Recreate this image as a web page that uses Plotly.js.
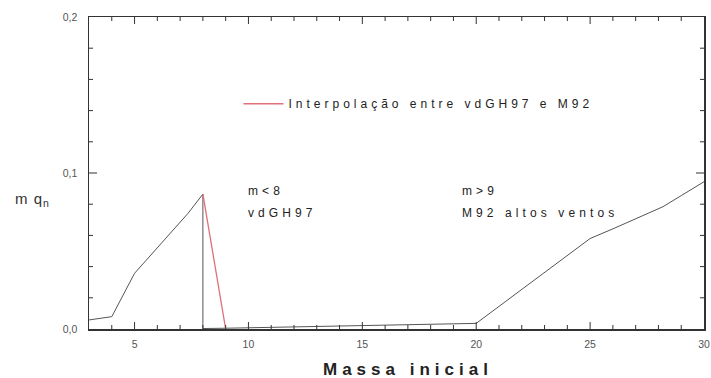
<!DOCTYPE html>
<html>
<head>
<meta charset="utf-8">
<script src="https://cdn.plot.ly/plotly-3.0.1.min.js"></script>
<style>
  html, body { margin: 0; padding: 0; background: #fff; }
  #chart { width: 711px; height: 378px; }
  /* wide letter spacing for the in-plot labels */
  #chart g.annotation text.annotation-text { letter-spacing: 4.1px; }
  #chart g.annotation[data-index="0"] text.annotation-text { letter-spacing: 1px; }
  #chart g.annotation[data-index="1"] text.annotation-text { letter-spacing: 5px; }
  #chart text.legendtext { letter-spacing: 4px; }
  #chart .legend .scrollbox { clip-path: none !important; }
  #chart text.xtick, #chart text.ytick { letter-spacing: 2px; }
</style>
</head>
<body>
<div id="chart"></div>
<script>
// Initial mass (solar masses) and m*q_n for the two wind models
const massModel = [3, 4, 5, 6, 7, 7.35, 8, 8, 9, 10, 11, 12, 13, 14, 15, 16, 17, 18, 19, 20,
                   21, 22, 23, 24, 25, 26, 27, 28, 28.2, 29, 30];
const mqModel   = [0.0058, 0.0079, 0.0357, 0.0521, 0.0688, 0.0742, 0.0865, 0.0003, 0.0005, 0.0008,
                   0.0010, 0.0013, 0.0016, 0.0020, 0.0024, 0.0026, 0.0029, 0.0031, 0.0034, 0.0036,
                   0.0145, 0.0254, 0.0363, 0.0471, 0.0580, 0.0642, 0.0705, 0.0770, 0.0784, 0.0855, 0.0944];

// Linear interpolation between the two regimes (8 to 9 Msun)
const massInterp = [8, 9];
const mqInterp   = [0.0865, 0.0];

const interpName = 'Interpolação entre vdGH97 e M92';
const massRange = [3, 30];
const mqRange = [0, 0.2];

// Frame tick marks (pointing into the plot on all four sides)
const xMajorTicks = [5, 10, 15, 20, 25];
const yMajorTicks = [0.1];
const xMinorStep = 1;
const yMinorStep = 0.02;

const axisColor = '#333';
const fam = 'Liberation Sans, Arial, sans-serif';
const tickFont = {family: fam, size: 10.5, color: '#555'};
const labelFont = {family: fam, size: 12, color: '#222'};

const margin = {l: 89, r: 7, t: 17, b: 49};
const W = 711, H = 378;
const plotW = W - margin.l - margin.r;
const plotH = H - margin.t - margin.b;
const xPerPx = (massRange[1] - massRange[0]) / plotW;
const yPerPx = (mqRange[1] - mqRange[0]) / plotH;

function between(lo, hi, step) {
  const out = [];
  for (let v = lo + step; v < hi - step / 2; v += step) out.push(+v.toFixed(6));
  return out;
}
const isMajor = (v, list) => list.some(m => Math.abs(m - v) < 1e-9);
const xMinorTicks = between(massRange[0], massRange[1], xMinorStep).filter(v => !isMajor(v, xMajorTicks));
const yMinorTicks = between(mqRange[0], mqRange[1], yMinorStep).filter(v => !isMajor(v, yMajorTicks));

// Tick marks as short line markers, centred half a tick length inside each frame edge.
// A line-ns / line-ew marker of size s is 1.4*s pixels long.
function xTickTrace(vals, lenPx) {
  const h = (lenPx / 2) * yPerPx;
  return {
    x: vals.concat(vals), y: vals.map(() => mqRange[0] + h).concat(vals.map(() => mqRange[1] - h)),
    type: 'scatter', mode: 'markers', showlegend: false, hoverinfo: 'skip', cliponaxis: true,
    marker: {symbol: 'line-ns-open', size: lenPx / 1.4, color: axisColor,
             line: {color: axisColor, width: 1}}
  };
}
function yTickTrace(vals, lenPx) {
  const h = (lenPx / 2) * xPerPx;
  return {
    y: vals.concat(vals), x: vals.map(() => massRange[0] + h).concat(vals.map(() => massRange[1] - h)),
    type: 'scatter', mode: 'markers', showlegend: false, hoverinfo: 'skip', cliponaxis: true,
    marker: {symbol: 'line-ew-open', size: lenPx / 1.4, color: axisColor,
             line: {color: axisColor, width: 1}}
  };
}

const traces = [
  {x: massModel, y: mqModel, type: 'scatter', mode: 'lines',
   line: {color: '#555', width: 1}, showlegend: false, hoverinfo: 'skip'},
  {x: massInterp, y: mqInterp, type: 'scatter', mode: 'lines', name: interpName,
   line: {color: '#e0707a', width: 1.3}, showlegend: true, hoverinfo: 'skip'},
  xTickTrace(xMajorTicks, 7),
  xTickTrace(xMinorTicks, 4),
  yTickTrace(yMajorTicks, 8),
  yTickTrace(yMinorTicks, 4)
];

const layout = {
  width: W, height: H,
  margin: margin,
  paper_bgcolor: '#fff', plot_bgcolor: 'rgba(0,0,0,0)',
  separators: ',.',
  showlegend: true,
  legend: {x: 0.243, y: 0.722, xanchor: 'left', yanchor: 'middle',
           bgcolor: 'rgba(0,0,0,0)', borderwidth: 0, font: labelFont,
           itemwidth: 40},
  xaxis: {
    range: massRange, tick0: 0, dtick: 5, ticks: '',
    showline: true, linecolor: axisColor, linewidth: 1.5, mirror: true,
    showgrid: false, zeroline: false, tickfont: tickFont, ticklabelstandoff: 5
  },
  yaxis: {
    range: mqRange, tick0: 0, dtick: 0.1, tickformat: '.1f', ticks: '',
    showline: true, linecolor: axisColor, linewidth: 1.5, mirror: true,
    showgrid: false, zeroline: false, tickfont: tickFont, ticklabelstandoff: 8
  },
  annotations: [
    {text: 'm q<sub>n</sub>', xref: 'paper', yref: 'paper', x: -0.124, y: 0.415,
     xanchor: 'left', yanchor: 'middle', align: 'left', showarrow: false,
     font: {family: fam, size: 15, color: '#333'}},
    {text: '<b>Massa inicial</b>', xref: 'paper', yref: 'paper', x: 0.377, y: -0.131,
     xanchor: 'left', yanchor: 'middle', align: 'left', showarrow: false,
     font: {family: fam, size: 17, color: '#222'}},
    {text: 'm<8', xref: 'x', yref: 'y', x: 9.9, y: 0.0885, xanchor: 'left', yanchor: 'middle',
     align: 'left', showarrow: false, font: labelFont},
    {text: 'vdGH97', xref: 'x', yref: 'y', x: 9.9, y: 0.0745, xanchor: 'left', yanchor: 'middle',
     align: 'left', showarrow: false, font: labelFont},
    {text: 'm>9', xref: 'x', yref: 'y', x: 19.27, y: 0.0885, xanchor: 'left', yanchor: 'middle',
     align: 'left', showarrow: false, font: labelFont},
    {text: 'M92 altos ventos', xref: 'x', yref: 'y', x: 19.27, y: 0.0745, xanchor: 'left', yanchor: 'middle',
     align: 'left', showarrow: false, font: labelFont}
  ]
};

Plotly.newPlot('chart', traces, layout, {staticPlot: true, displayModeBar: false});
</script>
</body>
</html>
